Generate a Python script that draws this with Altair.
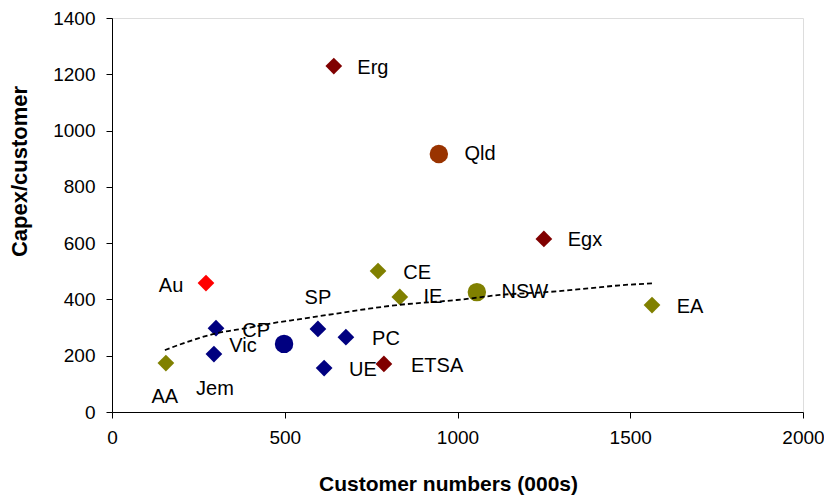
import altair as alt
import pandas as pd

# ---- data ----
names = ["Erg", "Qld", "Egx", "CE", "IE", "NSW", "EA", "Au", "AA",
         "CP", "Jem", "Vic", "SP", "PC", "UE", "ETSA"]
customers = [642, 946, 1250, 770, 833, 1056, 1563, 272, 156,
             301, 295, 498, 596, 677, 614, 787]
capex = [1229, 917, 615, 501, 409, 426, 380, 458, 174,
         298, 206, 242, 295, 266, 156, 171]
groups = ["darkred", "qld", "darkred", "olive", "olive", "olive", "olive", "red", "olive",
          "navy", "navy", "navy", "navy", "navy", "navy", "darkred"]
shapes = ["diamond", "circle", "diamond", "diamond", "diamond", "circle", "diamond", "diamond", "diamond",
          "diamond", "diamond", "circle", "diamond", "diamond", "diamond", "diamond"]
# label anchor points (data units)
label_x = [755, 1065, 1369, 883, 929, 1195, 1673, 171, 153,
           417, 298, 379, 596, 793, 726, 941]
label_y = [1222, 917, 611, 494, 409, 426, 373, 448, 53,
           288, 82, 234, 405, 259, 149, 163]

# trend line
trend_x = [153, 206, 303, 399, 466, 544, 640, 738, 825, 929, 998, 1123, 1268, 1383, 1479, 1563]
trend_y = [220, 244, 280, 300, 316, 330, 348, 366, 380, 391, 398, 416, 427, 440, 451, 457]

df = pd.DataFrame({"name": names, "customers": customers, "capex": capex,
                   "group": groups, "shape": shapes,
                   "lx": label_x, "ly": label_y})
tdf = pd.DataFrame({"x": trend_x, "y": trend_y})

FONT = "Liberation Sans"

xscale = alt.Scale(domain=[0, 2000], nice=False, zero=False)
yscale = alt.Scale(domain=[0, 1400], nice=False, zero=False)

xaxis = alt.Axis(values=[0, 500, 1000, 1500, 2000], grid=False, title="Customer numbers (000s)",
                 format="d",
                 labelFontSize=19, labelFont=FONT, labelColor="black", labelPadding=10,
                 tickSize=6, tickColor="black", domainColor="black", labelFlush=False,
                 titleFont=FONT, titleFontSize=21, titleFontWeight="bold", titleColor="black",
                 titleX=336, titleY=78, titleBaseline="alphabetic", titleAlign="center")
yaxis = alt.Axis(values=[0, 200, 400, 600, 800, 1000, 1200, 1400], grid=False, title="Capex/customer",
                 format="d",
                 labelFontSize=19, labelFont=FONT, labelColor="black", labelPadding=11,
                 tickSize=6, tickColor="black", domainColor="black", labelFlush=False,
                 titleFont=FONT, titleFontSize=22, titleFontWeight="bold", titleColor="black",
                 titleX=-86, titleY=153, titleBaseline="alphabetic", titleAlign="center", titleAngle=-90)

points = alt.Chart(df).mark_point(filled=True, opacity=1, strokeWidth=0).encode(
    x=alt.X("customers:Q", scale=xscale, axis=xaxis),
    y=alt.Y("capex:Q", scale=yscale, axis=yaxis),
    color=alt.Color("group:N", legend=None,
                    scale=alt.Scale(domain=["darkred", "qld", "olive", "red", "navy"],
                                    range=["#800000", "#993300", "#808000", "#FF0000", "#000080"])),
    shape=alt.Shape("shape:N", legend=None,
                    scale=alt.Scale(domain=["diamond", "circle"], range=["diamond", "circle"])),
    size=alt.Size("shape:N", legend=None,
                  scale=alt.Scale(domain=["diamond", "circle"], range=[280, 340])),
)

labels = alt.Chart(df).mark_text(font=FONT, fontSize=20, color="black",
                                 align="center", baseline="middle").encode(
    x=alt.X("lx:Q", scale=xscale),
    y=alt.Y("ly:Q", scale=yscale),
    text="name:N",
)

trend = alt.Chart(tdf).mark_line(color="black", strokeWidth=1.8, strokeDash=[5, 3],
                                 interpolate="monotone").encode(
    x=alt.X("x:Q", scale=xscale),
    y=alt.Y("y:Q", scale=yscale),
)

chart = alt.layer(points, labels, trend).properties(
    width=691, height=394,
    autosize=alt.AutoSizeParams(type="none"),
    padding={"left": 104, "top": 10, "right": 21, "bottom": 84},
).configure_view(stroke=None).configure(background="white")

chart.save("out.html", embed_options={"renderer": "svg", "actions": False})
